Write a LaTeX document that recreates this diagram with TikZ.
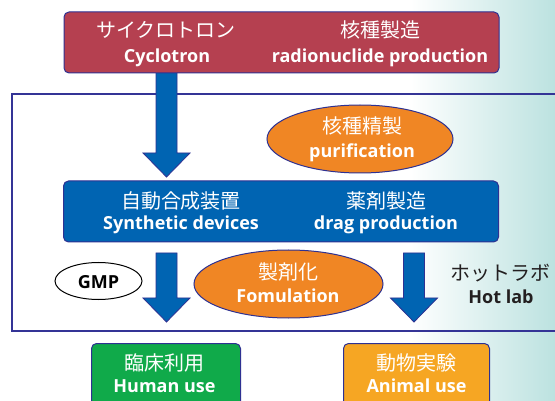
\documentclass[tikz,border=0pt]{standalone}
\usepackage{fontspec}
\setmainfont{Open Sans}
\newfontfamily\jp{Noto Sans CJK JP}
\usetikzlibrary{shapes.geometric}
\definecolor{navy}{RGB}{46,49,146}
\definecolor{framec}{RGB}{52,52,150}
\definecolor{boxred}{RGB}{181,64,80}
\definecolor{boxblue}{RGB}{0,100,178}
\definecolor{ellor}{RGB}{240,134,36}
\definecolor{boxgreen}{RGB}{16,170,74}
\definecolor{boxorange}{RGB}{246,166,35}
\definecolor{teal1}{RGB}{188,226,224}
\definecolor{darktext}{RGB}{35,31,32}
\tikzset{
  panel/.style={draw=navy, line width=1pt, rounded corners=5pt, inner sep=0pt},
  oval/.style={ellipse, draw=navy, line width=1pt, fill=ellor, inner sep=0pt},
  jtxt/.style={text=white, font=\jp\fontsize{20}{20}\selectfont, inner sep=0pt},
  etxt/.style={text=white, font=\bfseries\fontsize{18}{18}\selectfont, inner sep=0pt, anchor=base},
  barr/.style={draw=navy, line width=0.8pt, fill=boxblue, line join=miter},
}
\newcommand\blockarrow[4]{%
  \draw[barr] (#1-10.5,#2) -- (#1+10.5,#2) -- (#1+10.5,#3) -- (#1+23.5,#3)
    -- (#1,#4) -- (#1-23.5,#3) -- (#1-10.5,#3) -- cycle;}
\begin{document}
\begin{tikzpicture}[x=1pt,y=-1pt]
\useasboundingbox (0,0) rectangle (555,401);
\clip (0,0) rectangle (555,401);
\fill[white] (0,0) rectangle (555,401);
\shade[left color=white, right color=teal1] (410,0) rectangle (555,401);
% frame
\draw[framec, line width=1.5pt] (12,94) rectangle (575,331);
% arrows
\blockarrow{166.5}{70}{153}{177}
\blockarrow{166.5}{253}{298}{322}
\blockarrow{414}{253}{298}{322}
% top red box
\node[panel, fill=boxred, minimum width=435pt, minimum height=61pt] (cyc) at (281.5,42.5) {};
\node[jtxt] (cycj) at (166,30) {サイクロトロン};
\node[etxt] (cyce) at (167,63) {Cyclotron};
\node[jtxt] (rnj) at (380,30) {核種製造};
\node[etxt] (rne) at (380,63) {radionuclide production};
% purification ellipse
\node[oval, minimum width=186pt, minimum height=68pt] (pur) at (360,139) {};
\node[jtxt] (purj) at (362,126) {核種精製};
\node[etxt] (pure) at (362,158) {purification};
% blue box
\node[panel, fill=boxblue, minimum width=435pt, minimum height=61pt] (syn) at (281,211.5) {};
\node[jtxt] (synj) at (181,201) {自動合成装置};
\node[etxt] (syne) at (181,230) {Synthetic devices};
\node[jtxt] (drgj) at (386,201) {薬剤製造};
\node[etxt] (drge) at (386,230) {drag production};
% GMP
\node[ellipse, draw=black, line width=1pt, fill=white, minimum width=87pt, minimum height=37pt, inner sep=0pt] (gmp) at (98.5,281) {};
\node[etxt, text=black, font=\bfseries\fontsize{18}{18}\selectfont] (gmpt) at (98.5,288.5) {GMP};
% formulation ellipse
\node[oval, minimum width=189pt, minimum height=68pt] (fom) at (288.5,284) {};
\node[jtxt] (fomj) at (288,271.5) {製剤化};
\node[etxt] (fome) at (288,302.5) {Fomulation};
% hot lab
\node[jtxt, text=darktext] (hotj) at (500,273.5) {ホットラボ};
\node[etxt, text=darktext] (hote) at (501,304) {Hot lab};
% bottom boxes
\node[panel, fill=boxgreen, minimum width=149pt, minimum height=80pt, anchor=north west] (hum) at (91,343) {};
\node[jtxt] (humj) at (164.5,362.5) {臨床利用};
\node[etxt] (hume) at (164.5,392.5) {Human use};
\node[panel, fill=boxorange, minimum width=146pt, minimum height=80pt, anchor=north west] (ani) at (343,343) {};
\node[jtxt] (anij) at (416.5,362.5) {動物実験};
\node[etxt] (anie) at (416.5,392.5) {Animal use};
\end{tikzpicture}
\end{document}
